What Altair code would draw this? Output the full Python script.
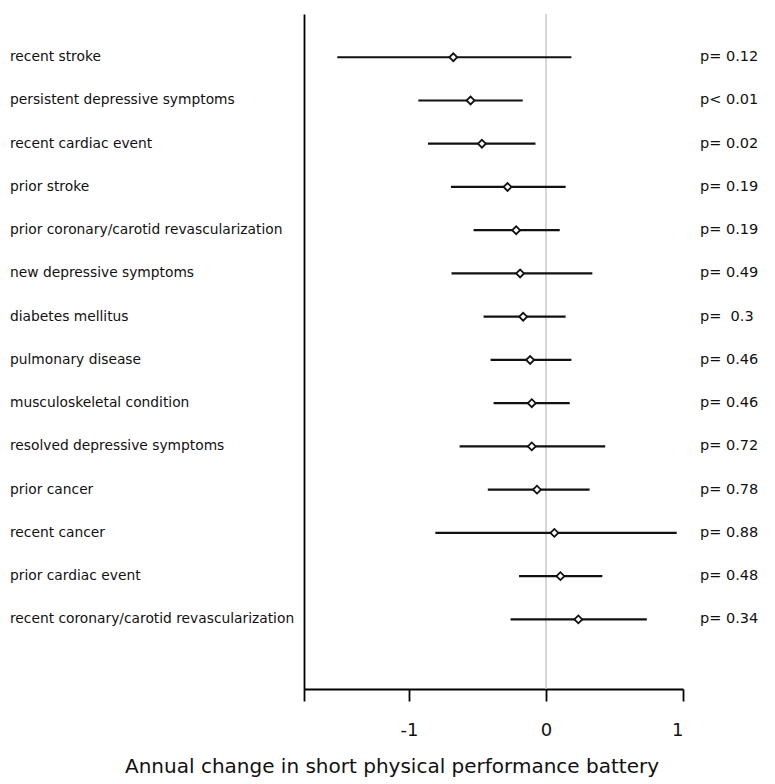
import altair as alt
import pandas as pd

factors = [
    "recent stroke",
    "persistent depressive symptoms",
    "recent cardiac event",
    "prior stroke",
    "prior coronary/carotid revascularization",
    "new depressive symptoms",
    "diabetes mellitus",
    "pulmonary disease",
    "musculoskeletal condition",
    "resolved depressive symptoms",
    "prior cancer",
    "recent cancer",
    "prior cardiac event",
    "recent coronary/carotid revascularization",
]
estimate = [-0.677, -0.551, -0.468, -0.281, -0.218, -0.189, -0.167, -0.116, -0.104, -0.104, -0.066, 0.061, 0.105, 0.236]
lower = [-1.524, -0.932, -0.862, -0.694, -0.529, -0.690, -0.456, -0.405, -0.383, -0.631, -0.425, -0.808, -0.197, -0.259]
upper = [0.185, -0.170, -0.077, 0.143, 0.100, 0.338, 0.143, 0.185, 0.173, 0.432, 0.318, 0.954, 0.411, 0.736]
pvals = ["p= 0.12", "p< 0.01", "p= 0.02", "p= 0.19", "p= 0.19", "p= 0.49", "p=\u00a0 0.3",
         "p= 0.46", "p= 0.46", "p= 0.72", "p= 0.78", "p= 0.88", "p= 0.48", "p= 0.34"]
x_ticks = [-1.767, -1, 0, 1]

df = pd.DataFrame({
    "factor": factors,
    "rank": list(range(1, len(factors) + 1)),
    "est": estimate,
    "lo": lower,
    "hi": upper,
    "p": pvals,
})

FONT = "DejaVu Sans"
xscale = alt.Scale(domain=[-1.767, 1], nice=False, zero=False)
yscale = alt.Scale(domain=[0, 15.61], reverse=True, nice=False, zero=False)

base = alt.Chart(df)

xaxis = alt.Axis(
    values=x_ticks,
    labelExpr="datum.value < -1.5 ? '' : toString(datum.value)",
    grid=False,
    domainColor="black",
    domainWidth=1.8,
    tickColor="black",
    tickWidth=1.8,
    tickSize=12,
    labelPadding=20,
    labelFont=FONT,
    labelFontSize=18,
    labelColor="#111",
    title="Annual change in short physical performance battery",
    titleFont=FONT,
    titleFontSize=20,
    titleFontWeight="normal",
    titleColor="#111",
    titlePadding=17,
    titleX=87.5,
    titleAnchor="start",
    titleAlign="center",
)
yaxis = alt.Axis(
    labels=False, ticks=False, grid=False, title=None,
    domainColor="black", domainWidth=1.8,
)

zero_line = alt.Chart(pd.DataFrame({"z": [0]})).mark_rule(color="#c8c8c8", strokeWidth=1.5).encode(
    x=alt.X("z:Q", scale=xscale, axis=xaxis)
)

bars = base.mark_rule(color="#111", strokeWidth=2.2).encode(
    x=alt.X("lo:Q", scale=xscale, axis=xaxis),
    x2="hi:Q",
    y=alt.Y("rank:Q", scale=yscale, axis=yaxis),
)

points = base.mark_point(shape="diamond", filled=True, fill="white", stroke="#111",
                         strokeWidth=1.8, size=62, opacity=1).encode(
    x=alt.X("est:Q", scale=xscale),
    y=alt.Y("rank:Q", scale=yscale),
)

labels = base.mark_text(align="left", baseline="middle", font=FONT, fontSize=13.8, color="#111").encode(
    x=alt.value(-294),
    y=alt.Y("rank:Q", scale=yscale),
    text="factor:N",
)

ptext = base.mark_text(align="left", baseline="middle", font=FONT, fontSize=14.5, color="#111").encode(
    x=alt.value(396),
    y=alt.Y("rank:Q", scale=yscale),
    text="p:N",
)

chart = alt.layer(zero_line, bars, points, labels, ptext).properties(
    width=379,
    height=675,
    autosize=alt.AutoSizeParams(type="none"),
    padding={"left": 296, "top": 6, "right": 82, "bottom": 93},
).configure(background="white").configure_view(strokeWidth=0, stroke=None)

chart.save("out.html", embed_options={"renderer": "svg", "actions": False})
